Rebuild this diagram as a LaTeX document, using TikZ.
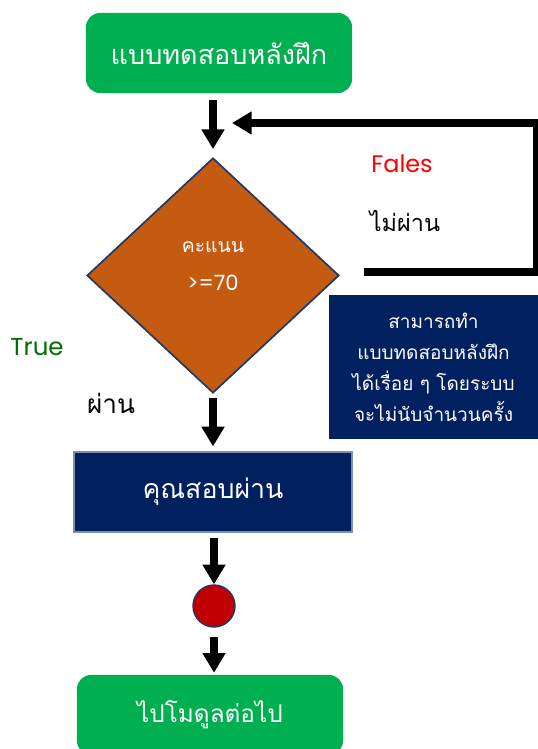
\documentclass[tikz,border=0pt]{standalone}
\usepackage{fontspec}
\setmainfont[Script=Thai]{Loma}
\newfontfamily\latinfont{Poppins}
\usepackage{xcolor}
\usepackage{tikz}
\usetikzlibrary{shapes.geometric, arrows.meta, positioning, calc}

\definecolor{okgreen}{RGB}{0,176,80}
\definecolor{burnt}{RGB}{197,90,17}
\definecolor{navy}{RGB}{0,32,96}
\definecolor{edgenavy}{RGB}{32,56,100}
\definecolor{edgegray}{RGB}{127,143,169}
\definecolor{dotred}{RGB}{192,0,0}
\definecolor{truegreen}{RGB}{0,110,0}

\begin{document}
\begin{tikzpicture}[
        x=0.025cm, y=-0.025cm,
        % block styles
        startstop/.style={rectangle, rounded corners=0.35cm, fill=okgreen, minimum width=6.65cm, minimum height=2cm, text=white, font=\fontsize{19.2}{23}\selectfont},
        decision/.style={diamond, draw=edgenavy, line width=1.2pt, fill=burnt, minimum width=6.3cm, minimum height=5.875cm, inner sep=0pt},
        process/.style={rectangle, draw=edgegray, line width=0.8pt, fill=navy, minimum width=6.95cm, minimum height=2cm, text=white, font=\fontsize{19}{23}\selectfont},
        note/.style={rectangle, fill=navy, minimum width=5.225cm, minimum height=3.575cm, text=white, align=center, font=\fontsize{13.5}{22}\selectfont},
        joint/.style={circle, draw=edgenavy, line width=1pt, fill=dotred, minimum size=1.05cm, inner sep=0pt},
        arrow/.style={line width=5.7pt, -{Triangle[length=14pt, width=15.6pt]}},
        loopline/.style={line width=5pt, -{Triangle[length=14pt, width=15.6pt]}}
    ]

    \useasboundingbox (0,0) rectangle (538,749);

    % --- 1. BLOCKS ---
    \node[startstop] (start) at (219,53) {แบบทดสอบหลังฝึก};

    \node[decision] (dec) at (213,275.5) {};
    \node[text=white, align=center, font=\fontsize{13.8}{27}\selectfont] (dectxt) at (213,266) {คะแนน\\{\latinfont\fontsize{15}{27}\selectfont >=70}};

    \node[note] (note) at (433.5,367) {สามารถทำ\\แบบทดสอบหลังฝึก\\ได้เรื่อย ๆ โดยระบบ\\จะไม่นับจำนวนครั้ง};

    \node[process] (pass) at (213,492) {คุณสอบผ่าน};
    \node[joint] (dot) at (214,606) {};
    \node[startstop, font=\fontsize{17.3}{21}\selectfont] (next) at (210,715) {ไปโมดูลต่อไป};

    % labels
    \node[text=red, font=\latinfont\fontsize{17}{20}\selectfont] (fales) at (402,164) {Fales};
    \node[font=\fontsize{16.7}{20}\selectfont] (nopass) at (405,221) {ไม่ผ่าน};
    \node[text=truegreen, font=\latinfont\fontsize{17.4}{20}\selectfont] (true) at (37,347) {True};
    \node[font=\fontsize{18.6}{22}\selectfont] (yespass) at (111,403) {ผ่าน};

    % loop anchors
    \coordinate (fbout) at (364,272);
    \coordinate (fbcorner) at (537,123);
    \coordinate (fbin) at (232,123);

    % --- 2. MAIN ARROWS ---
    \draw[arrow, shorten <=0.175cm, shorten >=0.2cm] (start.south -| dec.north) -- (dec.north);
    \draw[arrow, shorten <=0.1cm, shorten >=0.125cm] (dec.south) -- (pass.north);
    \draw[arrow, shorten <=0.125cm] (pass.south -| dot.north) -- (dot.north);
    \draw[arrow, shorten <=0.225cm, shorten >=0.05cm] (dot.south) -- (dot.south |- next.north);

    % --- 3. LOOP BACK ---
    \draw[loopline] (fbout) -| (fbcorner) -- (fbin);

\end{tikzpicture}
\end{document}
